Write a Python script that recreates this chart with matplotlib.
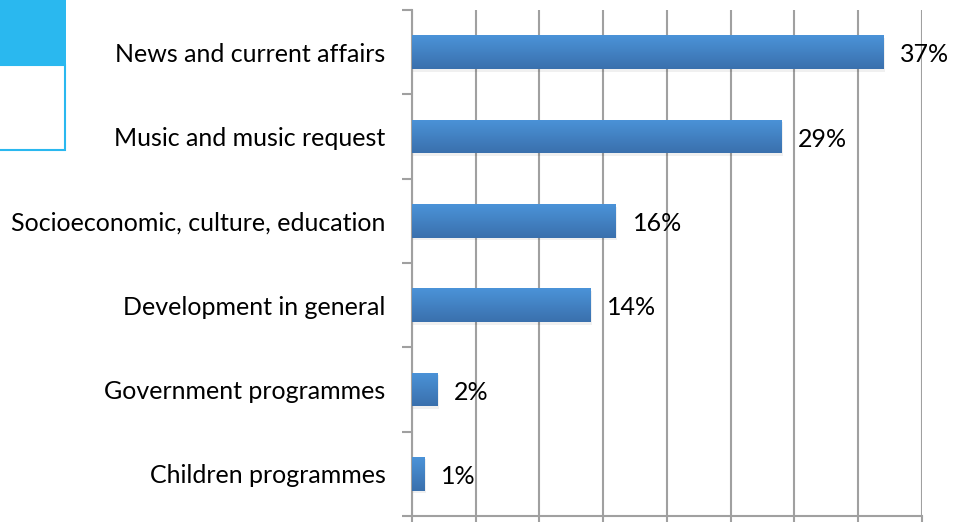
import numpy as np
import matplotlib.pyplot as plt
from matplotlib.patches import Rectangle
from matplotlib.colors import LinearSegmentedColormap

categories = ["News and current affairs", "Music and music request",
              "Socioeconomic, culture, education", "Development in general",
              "Government programmes", "Children programmes"]
values = [37, 29, 16, 14, 2, 1]
value_labels = ["37%", "29%", "16%", "14%", "2%", "1%"]

plt.rcParams['font.family'] = ['Lato', 'DejaVu Sans']

fig = plt.figure(figsize=(9.55, 5.22), dpi=100)
ax = fig.add_axes([0.4314, 0.0115, 0.534, 0.9693])

y = np.arange(len(categories))[::-1]
bars = ax.barh(y, values, height=0.4, color="#4483c6", zorder=3)

# vertical gradient on each bar, light top to dark bottom
grad = np.linspace(0, 1, 64).reshape(-1, 1)
cmap = LinearSegmentedColormap.from_list("bar", ["#4b93d8", "#3a70ad"])
for b in bars:
    x0, y0 = b.get_x(), b.get_y()
    w, h = b.get_width(), b.get_height()
    im = ax.imshow(grad, cmap=cmap, aspect="auto", extent=[x0, x0 + w, y0, y0 + h],
                   origin="upper", zorder=4)
    im.set_clip_path(b)
    # soft shadow
    ax.add_patch(Rectangle((x0 + 0.1, y0 - 0.03), w, h, color="#000000", alpha=0.06,
                           zorder=2, linewidth=0))

for yi, v, lab in zip(y, values, value_labels):
    ax.text(v + 1.3, yi - 0.03, lab, va="center", ha="left", fontsize=18, color="black", zorder=5)

ax.set_xlim(0, 40)
ax.set_ylim(-0.5, len(categories) - 0.5)
ax.set_xticks(np.arange(0, 41, 5))
ax.set_xticklabels([])
ax.set_yticks(y)
ax.set_yticklabels(categories, fontsize=18)
ax.set_yticks(np.arange(-0.5, len(categories), 1), minor=True)
ax.tick_params(axis="y", which="major", length=0, pad=19)
ax.tick_params(axis="y", which="minor", length=7, width=1.5, color="#a0a0a0")
ax.tick_params(axis="x", length=6, width=1.5, color="#a0a0a0")
ax.grid(axis="x", color="#a0a0a0", linewidth=1.5, zorder=1)
for s in ["top", "right"]:
    ax.spines[s].set_visible(False)
for s in ["left", "bottom"]:
    ax.spines[s].set_color("#a0a0a0")
    ax.spines[s].set_linewidth(1.5)

# cropped shapes at top-left
fig.patches.append(Rectangle((0, 1 - 65 / 522), 66 / 955, 65 / 522, transform=fig.transFigure,
                             facecolor="#2ab8ef", edgecolor="none"))
fig.patches.append(Rectangle((-0.01, 1 - 150 / 522), 65 / 955 + 0.01, 85 / 522,
                             transform=fig.transFigure, facecolor="white",
                             edgecolor="#2ab8ef", linewidth=1.5))

fig.savefig("out.png", dpi=100)
